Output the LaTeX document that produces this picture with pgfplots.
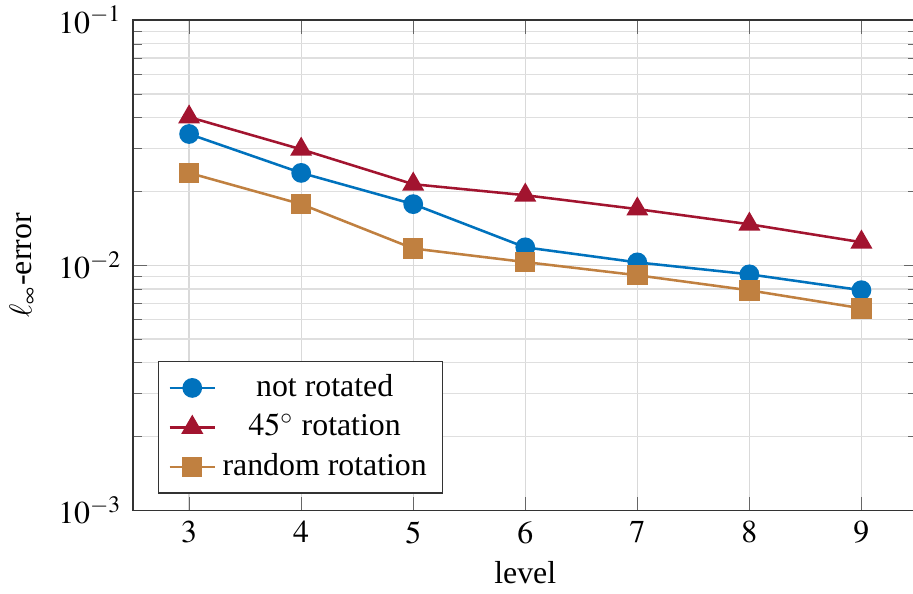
\documentclass[border=0pt]{standalone}
\usepackage{mathptmx}
\usepackage[no-math]{fontspec}
\setmainfont{Liberation Serif}
\usepackage{pgfplots}
\pgfplotsset{compat=1.18}

\definecolor{cblue}{RGB}{0,114,189}
\definecolor{cred}{RGB}{162,20,47}
\definecolor{corange}{RGB}{192,128,64}

\begin{document}
\begin{tikzpicture}
\begin{axis}[
  scale only axis,
  width=246.4pt, height=154pt,
  ymode=log,
  xmin=2.5, xmax=9.5,
  ymin=1e-3, ymax=1e-1,
  xtick={3,4,5,6,7,8,9},
  xlabel={level},
  xlabel style={yshift=1.5pt},
  ylabel={$\ell_\infty$-error},
  grid=both,
  major grid style={gray!30},
  minor grid style={gray!25},
  tick style={gray!80!black},
  tick align=inside,
  axis line style={black!80},
  legend style={at={(0.032,0.034)}, anchor=south west, cells={anchor=center},
    draw=black!80},
  legend cell align=center,
  legend image code/.code={
    \draw[mark repeat=2,mark phase=2,#1] plot coordinates {(0cm,0cm) (0.25cm,0cm) (0.5cm,0cm)};},
]
\addplot[cblue, line width=0.8pt, mark=*, mark size=2.7pt] coordinates {
  (3,0.0343) (4,0.0238) (5,0.01775) (6,0.01183) (7,0.01027) (8,0.00918) (9,0.00791)};
\addlegendentry{not rotated}
\addplot[cred, line width=0.8pt, mark=triangle*, mark size=3.2pt] coordinates {
  (3,0.0402) (4,0.0297) (5,0.0214) (6,0.0193) (7,0.01694) (8,0.01469) (9,0.01241)};
\addlegendentry{$45^\circ$ rotation}
\addplot[corange, line width=0.8pt, mark=square*, mark size=2.8pt] coordinates {
  (3,0.0238) (4,0.01775) (5,0.0117) (6,0.0103) (7,0.0091) (8,0.0079) (9,0.00667)};
\addlegendentry{random rotation}
\coordinate (ll) at (rel axis cs:0,0);
\coordinate (ur) at (rel axis cs:1,1);
\end{axis}
\pgfresetboundingbox
\path[use as bounding box] ([xshift=-41.8pt,yshift=-26pt]ll) rectangle ([xshift=-1.4pt,yshift=6.3pt]ur);
\end{tikzpicture}
\end{document}
